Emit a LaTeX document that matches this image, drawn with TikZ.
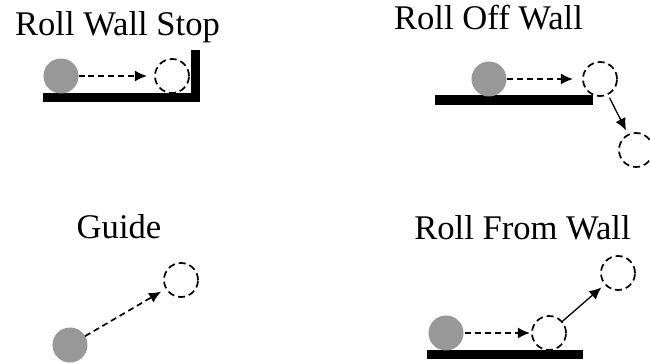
\documentclass[tikz,border=0pt]{standalone}
\usepackage{fontspec}
\setmainfont{Liberation Serif}
\usetikzlibrary{arrows.meta}
\definecolor{ballgray}{RGB}{152,152,152}
\tikzset{
  ball/.style={circle, fill=ballgray, inner sep=0pt, outer sep=0pt, minimum size=17.5pt},
  ghost/.style={circle, draw=black, line width=0.85pt, dash pattern=on 3.5pt off 2pt,
                inner sep=0pt, outer sep=0pt, minimum size=17pt},
  path/.style={line width=0.85pt, dash pattern=on 3pt off 2pt,
               -{Latex[length=6pt,width=5.5pt]}},
  jump/.style={line width=0.65pt, -{Latex[length=6pt,width=5.5pt]}},
  title/.style={anchor=base, font=\fontsize{17.3}{20}\selectfont, inner sep=0pt},
  floor/.style={fill=black}
}
\begin{document}
\begin{tikzpicture}[x=0.5pt, y=-0.5pt]
  \fill[white] (0,0) rectangle (650,364);
  \useasboundingbox (0,0) rectangle (650,364);

  % Roll Wall Stop
  \node[title] (t1) at (117.5,35) {Roll Wall Stop};
  \fill[floor] (43,93) rectangle (200,102);
  \fill[floor] (191,50) rectangle (200,102);
  \node[ball]  (b1) at (61,76) {};
  \node[ghost] (g1) at (172,76) {};
  \draw[path, shorten >=4pt] (b1) -- (g1);

  % Roll Off Wall
  \node[title] (t2) at (488.5,30) {Roll Off Wall};
  \fill[floor] (435,95) rectangle (593,105);
  \node[ball]  (b2) at (489,79) {};
  \node[ghost] (g2) at (600,79) {};
  \node[ghost] (g3) at (636,150) {};
  \draw[path, shorten <=0.5pt, shorten >=5pt] (b2) -- (g2);
  \draw[jump, shorten <=2pt, shorten >=2.5pt] (g2) -- (g3);

  % Guide
  \node[title] (t3) at (119,239) {Guide};
  \node[ball]  (b3) at (70,345) {};
  \node[ghost] (g4) at (181,280) {};
  \draw[path, shorten >=3pt] (b3) -- (g4);

  % Roll From Wall
  \node[title] (t4) at (522.5,240) {Roll From Wall};
  \fill[floor] (427,350) rectangle (583,359);
  \node[ball]  (b4) at (446,333) {};
  \node[ghost] (g5) at (549,333) {};
  \node[ghost] (g6) at (618,273) {};
  \draw[path, shorten <=1pt, shorten >=1pt] (b4) -- (g5);
  \draw[jump, shorten >=2.5pt] (g5) -- (g6);
\end{tikzpicture}
\end{document}
